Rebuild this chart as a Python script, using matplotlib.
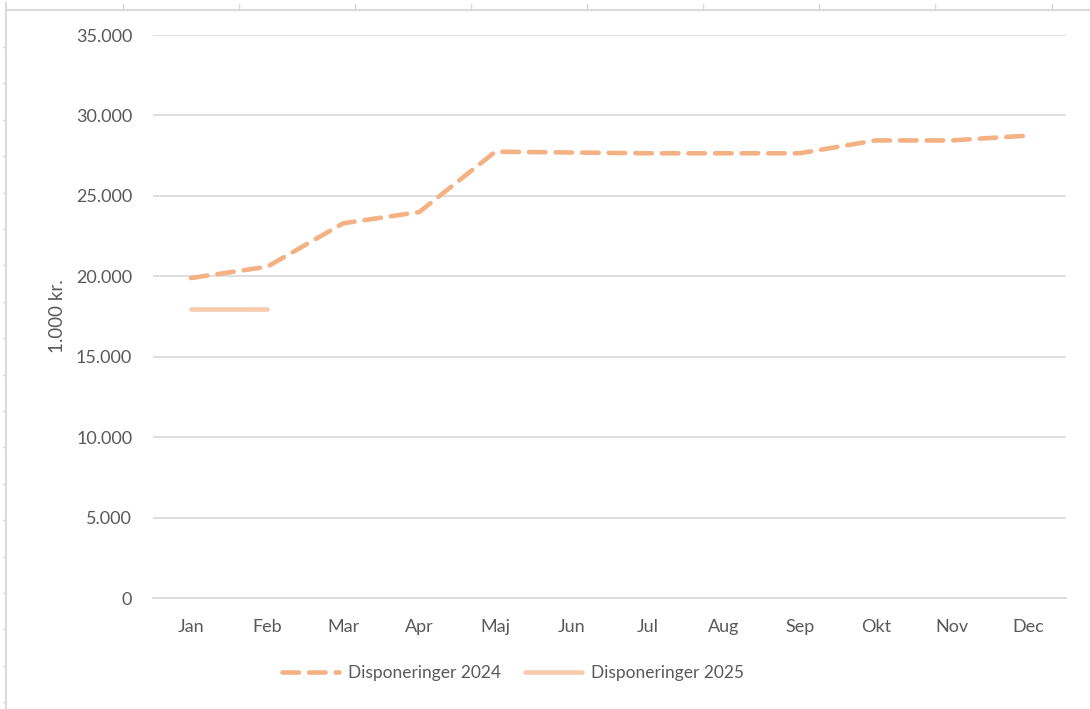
import matplotlib.pyplot as plt
from matplotlib.lines import Line2D
import numpy as np

plt.rcParams['font.family'] = ['Lato', 'DejaVu Sans']

months = ["Jan", "Feb", "Mar", "Apr", "Maj", "Jun", "Jul", "Aug", "Sep", "Okt", "Nov", "Dec"]
disp_2024 = [19900, 20600, 23300, 24000, 27750, 27700, 27650, 27650, 27650, 28450, 28450, 28750]
disp_2025 = [17950, 17950]
y_ticks = [0, 5000, 10000, 15000, 20000, 25000, 30000, 35000]

C_2024 = "#F4B183"
C_2025 = "#F8CBAD"
TXT = "#595959"
GRID = "#D9D9D9"

fig = plt.figure(figsize=(10.9, 7.09), dpi=100)

# spreadsheet frame behind the chart (header lines with small ticks)
W, H = 1090, 709
fig.add_artist(Line2D([6 / W, 1], [1 - 10 / H, 1 - 10 / H], color="#DADADA", lw=1.5))
fig.add_artist(Line2D([6 / W, 6 / W], [0, 1 - 3 / H], color="#DADADA", lw=1.5))
for cx in [123, 239, 355, 471, 587, 703, 819, 935, 1052]:
    fig.add_artist(Line2D([cx / W, cx / W], [1 - 4 / H, 1 - 10 / H], color="#DADADA", lw=1))
for ry in np.arange(47, 709, 36.4):
    fig.add_artist(Line2D([3 / W, 6 / W], [1 - ry / H, 1 - ry / H], color="#DADADA", lw=1))

ax = fig.add_axes([153 / W, 1 - 598.3 / H, (1066 - 153) / W, (598.3 - 35) / H])

x = np.arange(len(months))
ax.plot(x, disp_2024, color=C_2024, lw=3.3, ls=(0, (3.6, 2.2)),
        solid_capstyle="round", dash_capstyle="round", label="Disponeringer 2024")
ax.plot(x[:len(disp_2025)], disp_2025, color=C_2025, lw=3.3,
        solid_capstyle="round", label="Disponeringer 2025")

ax.set_xlim(-0.5, len(months) - 0.5)
ax.set_ylim(0, 35000)
ax.set_yticks(y_ticks)
ax.set_yticklabels([f"{v:,}".replace(",", ".") for v in y_ticks])
ax.set_xticks(x)
ax.set_xticklabels(months)
ax.tick_params(axis="both", length=0, labelsize=13, labelcolor=TXT)
ax.tick_params(axis="y", pad=15)
ax.tick_params(axis="x", pad=15)
ax.grid(axis="y", color=GRID, lw=1.2)
ax.set_axisbelow(True)
for s in ["top", "right", "left"]:
    ax.spines[s].set_visible(False)
ax.spines["bottom"].set_color(GRID)
ax.spines["bottom"].set_linewidth(1.2)

ax.set_ylabel("1.000 kr.", fontsize=13.5, color=TXT, labelpad=7)

fig.legend(loc="center", bbox_to_anchor=(513 / W, 1 - 673 / H), ncol=2, frameon=False,
           fontsize=12.5, labelcolor=TXT, handlelength=3.3, columnspacing=1.4,
           handletextpad=0.5)

fig.savefig("out.png", dpi=100, facecolor="white")
